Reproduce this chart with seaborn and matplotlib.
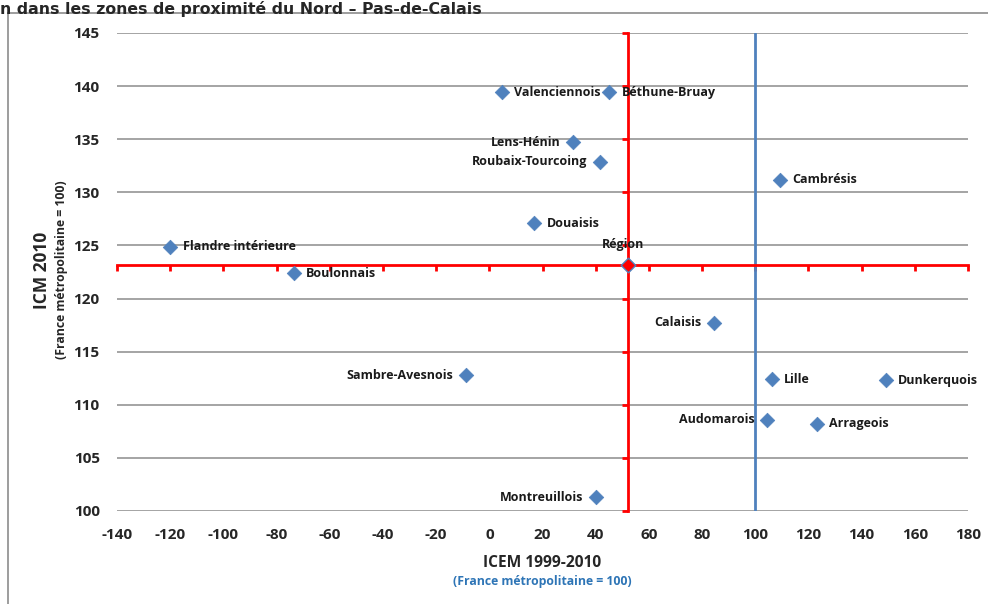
import matplotlib
matplotlib.use("Agg")
import matplotlib.pyplot as plt
import seaborn as sns
import pandas as pd
from matplotlib.lines import Line2D

# zones de proximité : ICEM 1999-2010 (x) et ICM 2010 (y)
zones = ["Valenciennois", "Béthune-Bruay", "Lens-Hénin", "Roubaix-Tourcoing",
         "Douaisis", "Cambrésis", "Flandre intérieure", "Boulonnais",
         "Calaisis", "Sambre-Avesnois", "Lille", "Dunkerquois",
         "Audomarois", "Arrageois", "Montreuillois"]
icem = [4.7, 45.0, 31.4, 41.6, 16.8, 109.2, -120.0, -73.5,
        84.4, -8.8, 106.2, 149.1, 104.4, 123.2, 40.1]
icm = [139.4, 139.4, 134.7, 132.9, 127.1, 131.2, 124.9, 122.4,
       117.7, 112.8, 112.4, 112.3, 108.6, 108.2, 101.3]
# côté de l'étiquette
cote = ["d", "d", "g", "g", "d", "d", "d", "d",
        "g", "g", "d", "d", "g", "d", "g"]

region_x = 52.0
region_y = 123.2
france = 100

x_ticks = list(range(-140, 181, 20))
y_ticks = list(range(100, 146, 5))

BLEU = "#4F81BD"
ROUGE = "#FF0000"
POLICE = ["Open Sans", "DejaVu Sans"]

df = pd.DataFrame({"zone": zones, "icem": icem, "icm": icm, "cote": cote})

sns.set_style("white")
plt.rcParams["font.family"] = POLICE
plt.rcParams["axes.unicode_minus"] = False

fig = plt.figure(figsize=(9.88, 6.04), dpi=100)
ax = fig.add_axes([117 / 988, 1 - 511 / 604, (968 - 117) / 988, (511 - 33) / 604])

# cadre extérieur (graphique Excel rogné)
fig.add_artist(Line2D([8 / 988, 8 / 988], [0, 1 - 13 / 604], transform=fig.transFigure,
                      color="#8c8c8c", lw=1.2))
fig.add_artist(Line2D([8 / 988, 1], [1 - 13 / 604, 1 - 13 / 604], transform=fig.transFigure,
                      color="#8c8c8c", lw=1.2))
fig.text(0, 1 - 1 / 604, "n dans les zones de proximité du Nord \u2013 Pas-de-Calais",
         ha="left", va="top", fontsize=11.3, fontweight="bold", family="DejaVu Sans")

ax.set_xlim(x_ticks[0], x_ticks[-1])
ax.set_ylim(y_ticks[0], y_ticks[-1])
ax.set_xticks(x_ticks)
ax.set_yticks(y_ticks)

for y in y_ticks:
    ax.axhline(y, color="#8c8c8c", lw=1.1, zorder=0)

ax.axvline(france, color=BLEU, lw=2, zorder=1)

# axes rouges qui se croisent sur la Région
ax.spines["top"].set_visible(False)
ax.spines["right"].set_visible(False)
ax.spines["left"].set_position(("data", region_x))
ax.spines["bottom"].set_position(("data", region_y))
for s in ["left", "bottom"]:
    ax.spines[s].set_color(ROUGE)
    ax.spines[s].set_linewidth(2)
    ax.spines[s].set_zorder(2)
ax.tick_params(axis="both", which="major", direction="out", length=4, width=2,
               color=ROUGE, left=True, bottom=True, labelleft=False, labelbottom=False)

# étiquettes des graduations en bordure de la zone de tracé
sy = ax.secondary_yaxis("left")
sy.set_yticks(y_ticks)
sy.spines["left"].set_visible(False)
sy.tick_params(left=False, length=0, pad=12.5, labelsize=11)
for t in sy.get_yticklabels():
    t.set_fontweight("bold")
sx = ax.secondary_xaxis("bottom")
sx.set_xticks(x_ticks)
sx.spines["bottom"].set_visible(False)
sx.tick_params(bottom=False, length=0, pad=12, labelsize=11)
for t in sx.get_xticklabels():
    t.set_fontweight("bold")

sns.scatterplot(data=df, x="icem", y="icm", marker="D", s=55, color=BLEU,
                edgecolor=BLEU, linewidth=0.5, ax=ax, zorder=3, clip_on=False)
ax.scatter([region_x], [region_y], marker="D", s=55, color=ROUGE,
           edgecolor=BLEU, linewidth=1, zorder=4)

for _, r in df.iterrows():
    if r["cote"] == "d":
        ax.annotate(r["zone"], (r["icem"], r["icm"]), xytext=(9, 0),
                    textcoords="offset points", ha="left", va="center",
                    fontsize=9, fontweight="bold", color="#1a1a1a", zorder=5)
    else:
        ax.annotate(r["zone"], (r["icem"], r["icm"]), xytext=(-9, 0),
                    textcoords="offset points", ha="right", va="center",
                    fontsize=9, fontweight="bold", color="#1a1a1a", zorder=5)
ax.annotate("Région", (region_x, region_y), xytext=(-3, 10),
            textcoords="offset points", ha="center", va="bottom",
            fontsize=9, fontweight="bold", color="#1a1a1a", zorder=5)

ax.set_xlabel("")
ax.set_ylabel("")
fig.text(542 / 988, 1 - 563 / 604, "ICEM 1999-2010", ha="center",
         va="center", fontsize=11.2, fontweight="bold")
fig.text(542 / 988, 1 - 582 / 604, "(France métropolitaine = 100)",
         ha="center", va="center", fontsize=8.8, fontweight="bold", color="#2E75B6")
fig.text(42 / 988, 1 - 270 / 604, "ICM 2010", ha="center", va="center",
         rotation=90, fontsize=12.5, fontweight="bold")
fig.text(61 / 988, 1 - 270 / 604, "(France métropolitaine = 100)", ha="center",
         va="center", rotation=90, fontsize=8.8, fontweight="bold")

fig.savefig("out.png", dpi=100)
